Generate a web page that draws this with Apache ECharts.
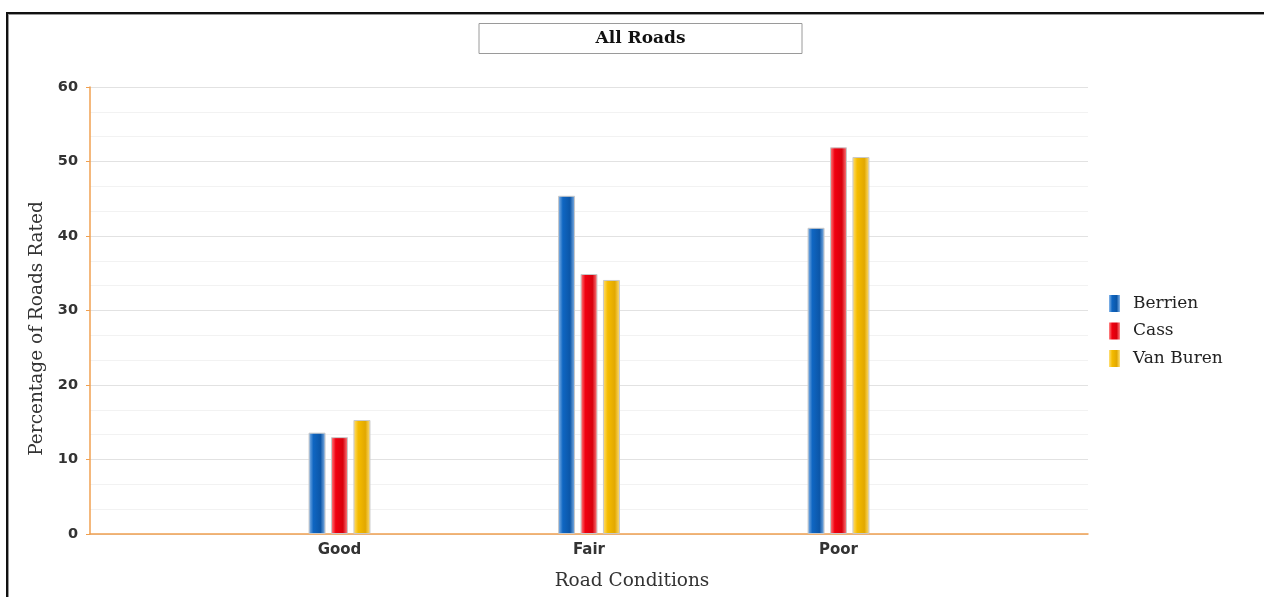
<!DOCTYPE html>
<html>
<head>
<meta charset="utf-8">
<script src="https://cdn.jsdelivr.net/npm/echarts@6/dist/echarts.min.js"></script>
<style>
  html, body { margin: 0; padding: 0; background: #fff; }
  #chart { width: 1264px; height: 597px; }
  #frame {
    position: absolute; left: 6px; top: 12px; width: 1300px; height: 600px;
    border-top: 2px solid #111; border-left: 2px solid #111;
    box-shadow: inset 1px 1px 0 #999;
    pointer-events: none;
  }
</style>
</head>
<body>
<div id="chart"></div>
<div id="frame"></div>
<script>
// Road condition ratings by county
const categories = ['Good', 'Fair', 'Poor'];
const berrien = [13.6, 45.4, 41.1];
const cass = [13.0, 34.9, 51.9];
const vanBuren = [15.3, 34.1, 50.6];
const yTicks = [0, 10, 20, 30, 40, 50, 60];

// The category axis runs edge to edge with one empty slot on each side
const axisCats = [''].concat(categories, ['']);
const pad = arr => [null].concat(arr, [null]);

function barFill(light, main, dark) {
  return new echarts.graphic.LinearGradient(0, 0, 1, 0, [
    { offset: 0, color: light },
    { offset: 0.28, color: main },
    { offset: 0.7, color: dark },
    { offset: 1, color: light }
  ]);
}

const styles = {
  Berrien: barFill('#8ab8ea', '#0f66c2', '#0b56a8'),
  Cass: barFill('#ff8a8a', '#f00010', '#d8000c'),
  'Van Buren': barFill('#ffe07a', '#f5bc00', '#e2a800')
};

const serif = 'DejaVu Serif';
const sans = 'DejaVu Sans';

function series(name, values) {
  return {
    name: name,
    type: 'bar',
    data: pad(values),
    barWidth: 17,
    barGap: '32%',
    itemStyle: { color: styles[name], borderColor: '#c9c9c9', borderWidth: 1 }
  };
}

const chart = echarts.init(document.getElementById('chart'));
chart.setOption({
  animation: false,
  title: {
    text: 'All Roads',
    left: 479,
    top: 23,
    padding: [7, 116.5, 7, 116.5],
    borderColor: '#9a9a9a',
    borderWidth: 1,
    textStyle: { fontFamily: serif, fontSize: 17, fontWeight: 'bold', color: '#111' }
  },
  legend: {
    orient: 'vertical',
    left: 1104,
    top: 290,
    itemWidth: 11,
    itemHeight: 17,
    itemGap: 10.5,
    icon: 'rect',
    itemStyle: { borderWidth: 0 },
    textStyle: { fontFamily: serif, fontSize: 17, color: '#222', padding: [0, 0, 0, 8] },
    data: ['Berrien', 'Cass', 'Van Buren']
  },
  grid: { left: 90, right: 176, top: 87, bottom: 63 },
  xAxis: {
    type: 'category',
    data: axisCats,
    boundaryGap: false,
    name: 'Road Conditions',
    nameLocation: 'middle',
    nameGap: 38,
    nameTextStyle: { fontFamily: serif, fontSize: 18.5, color: '#333', padding: [0, 0, 0, 86] },
    axisLine: { lineStyle: { color: '#f0a050', width: 1.5 } },
    axisTick: { show: false },
    axisLabel: { interval: 0, margin: 9, fontFamily: sans, fontSize: 15, fontWeight: 'bold', color: '#333' },
    splitLine: { show: false }
  },
  yAxis: {
    type: 'value',
    min: yTicks[0],
    max: yTicks[yTicks.length - 1],
    interval: 10,
    name: 'Percentage of Roads Rated',
    nameLocation: 'middle',
    nameGap: 30,
    nameTextStyle: { fontFamily: serif, fontSize: 18.5, color: '#333', padding: [0, 36, 0, 0] },
    axisLine: { show: true, lineStyle: { color: '#f0a050', width: 1.5 } },
    axisTick: { show: true, length: 4, lineStyle: { color: '#f0a050' } },
    axisLabel: { margin: 12, fontFamily: sans, fontSize: 14.5, fontWeight: 'bold', color: '#333' },
    splitLine: { lineStyle: { color: '#e2e2e2' } },
    minorTick: { show: false, splitNumber: 3 },
    minorSplitLine: { show: true, lineStyle: { color: '#f2f2f2' } }
  },
  series: [
    series('Berrien', berrien),
    series('Cass', cass),
    series('Van Buren', vanBuren)
  ]
});
</script>
</body>
</html>
